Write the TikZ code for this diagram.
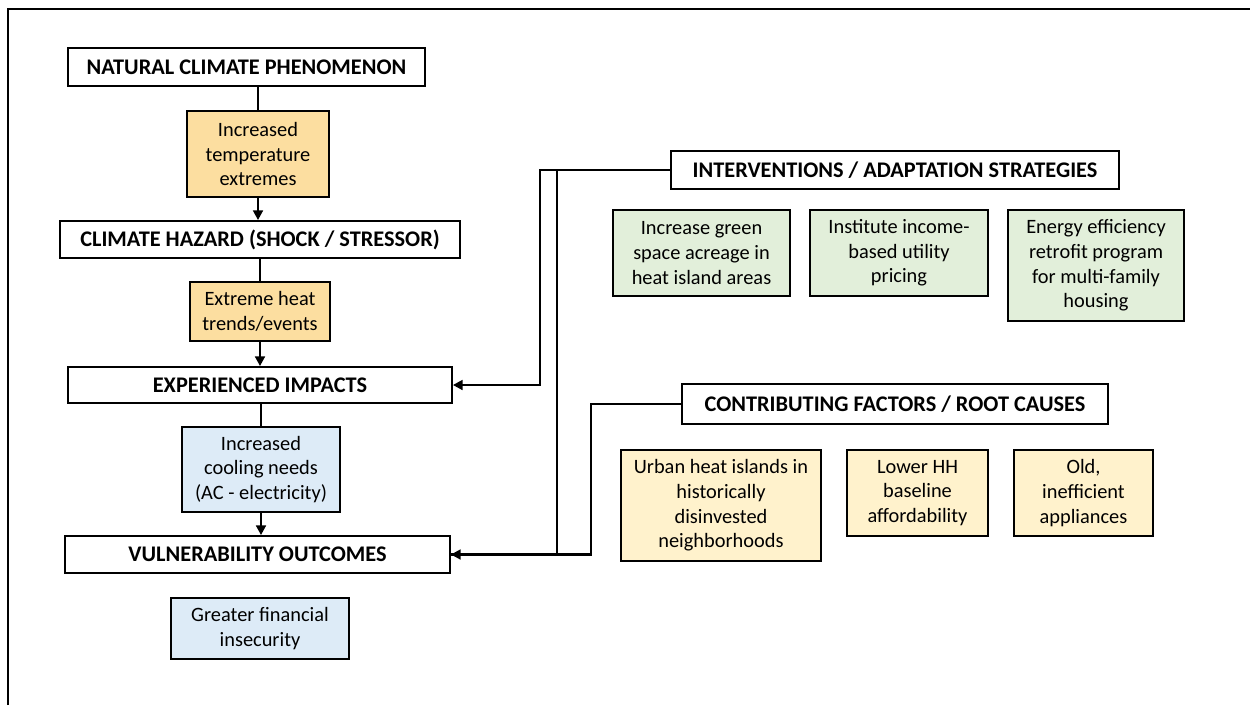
\documentclass[tikz,border=0pt]{standalone}
\usepackage{fontspec}
\setmainfont{Carlito}
\usetikzlibrary{arrows.meta}

\definecolor{heatorange}{RGB}{252,222,160}
\definecolor{causeyellow}{RGB}{255,242,204}
\definecolor{actgreen}{RGB}{226,239,218}
\definecolor{impblue}{RGB}{221,235,247}

\begin{document}
\begin{tikzpicture}
    % 设置样式
    \tikzset{
        head/.style={rectangle, draw=black, line width=1pt, fill=white, inner sep=0pt,
            font=\bfseries\fontsize{12.7}{14}\selectfont},
        card/.style={rectangle, draw=black, line width=1pt, inner sep=0pt, align=center,
            font=\fontsize{11.6}{14}\selectfont},
        conn/.style={line width=1.4pt},
        arrowed/.style={-{Triangle[length=5.5pt,width=5.5pt]}},
    }

    % 画布大小
    \useasboundingbox (0,0) rectangle (25,14.1);

    % 外框 (上边和左边)
    \draw[line width=1.6pt] (0.16,0) -- (0.16,13.92) -- (25,13.92);

    % 左列: 标题框和说明框
    \node[head, minimum width=7.14cm, minimum height=0.76cm] (nat) at (4.93,12.76) {NATURAL CLIMATE PHENOMENON};
    \node[card, fill=heatorange, minimum width=2.84cm, minimum height=1.72cm] (temp) at (5.16,11.02) {Increased\\temperature\\extremes};
    \node[head, minimum width=8cm, minimum height=0.74cm] (haz) at (5.2,9.31) {CLIMATE HAZARD (SHOCK / STRESSOR)};
    \node[card, fill=heatorange, minimum width=2.8cm, minimum height=1.18cm] (heat) at (5.2,7.87) {Extreme heat\\trends/events};
    \node[head, minimum width=7.68cm, minimum height=0.72cm] (imp) at (5.2,6.4) {EXPERIENCED IMPACTS};
    \node[card, fill=impblue, minimum width=3.16cm, minimum height=1.7cm] (cool) at (5.22,4.71) {Increased\\cooling needs\\(AC - electricity)};
    \node[head, minimum width=7.7cm, minimum height=0.74cm] (vul) at (5.15,3.01) {VULNERABILITY OUTCOMES};
    \node[card, fill=impblue, minimum width=3.56cm, minimum height=1.22cm] (fin) at (5.2,1.53) {Greater financial\\insecurity};

    % 左列连线
    \draw[conn] (nat.south -| temp.north) -- (temp.north);
    \draw[conn, arrowed] (temp.south) -- (temp.south |- haz.north);
    \draw[conn] (haz.south -| heat.north) -- (heat.north);
    \draw[conn, arrowed] (heat.south) -- (heat.south |- imp.north);
    \draw[conn] (imp.south -| cool.north) -- (cool.north);
    \draw[conn, arrowed] (cool.south) -- (cool.south |- vul.north);

    % 右侧: 干预措施
    \node[head, minimum width=8.96cm, minimum height=0.76cm] (int) at (17.9,10.7) {INTERVENTIONS / ADAPTATION STRATEGIES};
    \node[card, fill=actgreen, minimum width=3.54cm, minimum height=1.72cm] (g1) at (14.03,9.04) {Increase green\\space acreage in\\heat island areas};
    \node[card, fill=actgreen, minimum width=3.56cm, minimum height=1.72cm] (g2) at (17.98,9.04) {Institute income-\\based utility\\pricing};
    \node[card, fill=actgreen, minimum width=3.52cm, minimum height=2.22cm] (g3) at (21.92,8.79) {Energy efficiency\\retrofit program\\for multi-family\\housing};

    % 右侧: 根本原因
    \node[head, minimum width=8.52cm, minimum height=0.8cm] (cf) at (17.9,6.02) {CONTRIBUTING FACTORS / ROOT CAUSES};
    \node[card, fill=causeyellow, minimum width=4cm, minimum height=2.22cm] (y1) at (14.42,3.99) {Urban heat islands in\\historically\\disinvested\\neighborhoods};
    \node[card, fill=causeyellow, minimum width=2.82cm, minimum height=1.72cm] (y2) at (18.35,4.24) {Lower HH\\baseline\\affordability};
    \node[card, fill=causeyellow, minimum width=2.78cm, minimum height=1.72cm] (y3) at (21.67,4.24) {Old,\\inefficient\\appliances};

    % 右侧连线到左列
    \coordinate (j1) at (10.8,10.7);
    \coordinate (j2) at (11.14,10.7);
    \coordinate (j3) at (11.82,6.02);
    \draw[conn, arrowed] (int.west) -- (j1) |- (imp.east);
    \draw[conn] (j2) |- (vul.east);
    \draw[conn, arrowed] (cf.west) -- (j3) |- (vul.east);
\end{tikzpicture}
\end{document}
